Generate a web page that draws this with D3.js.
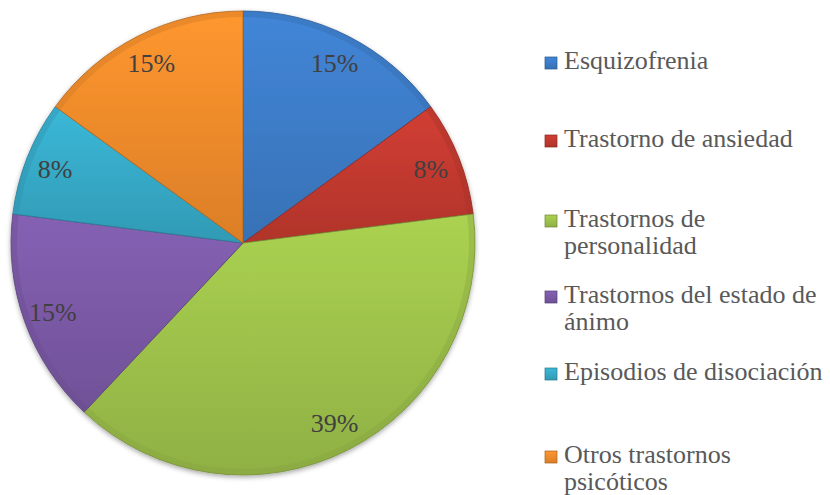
<!DOCTYPE html>
<html>
<head>
<meta charset="utf-8">
<script src="https://cdn.jsdelivr.net/npm/d3@7"></script>
<style>
  body { margin: 0; background: #fff; }
  svg { display: block; }
</style>
</head>
<body>
<div id="canvas"></div>
<script>
"use strict"

// data
let categories = ["Esquizofrenia", "Trastorno de ansiedad", "Trastornos de personalidad",
    "Trastornos del estado de ánimo", "Episodios de disociación", "Otros trastornos psicóticos"];
let values = [15, 8, 39, 15, 8, 15];
let labels = ["15%", "8%", "39%", "15%", "8%", "15%"];
let legendLines = [["Esquizofrenia"], ["Trastorno de ansiedad"], ["Trastornos de", "personalidad"],
    ["Trastornos del estado de", "ánimo"], ["Episodios de disociación"], ["Otros trastornos", "psicóticos"]];
let colors = ["#3c7bc6", "#c0392f", "#9cc04a", "#7a59a5", "#36a8c6", "#ef8a2b"];

let drawing = d3.select("#canvas")
    .append("svg")
    .attr("width", 830)
    .attr("height", 495);

let defs = drawing.append("defs");

// a gradient per colour so slices look a bit shaded like the original
colors.forEach(function (c, i) {
    let g = defs.append("linearGradient")
        .attr("id", "grad" + i)
        .attr("x1", 0).attr("y1", 0)
        .attr("x2", 0).attr("y2", 1);
    g.append("stop").attr("offset", "0%").attr("stop-color", d3.color(c).brighter(0.25));
    g.append("stop").attr("offset", "100%").attr("stop-color", d3.color(c).darker(0.25));
});

let shadow = defs.append("filter").attr("id", "shadow")
    .attr("x", "-10%").attr("y", "-10%").attr("width", "120%").attr("height", "120%");
shadow.append("feDropShadow")
    .attr("dx", 0).attr("dy", 2)
    .attr("stdDeviation", 2.5)
    .attr("flood-color", "#000")
    .attr("flood-opacity", 0.35);

let cx = 243, cy = 243, radius = 232;

let pie = d3.pie().sort(null).value(d => d);
let arcs = pie(values);

let arc = d3.arc().innerRadius(0).outerRadius(radius);
let inner = d3.arc().innerRadius(radius - 6).outerRadius(radius);
let labelArc = d3.arc().innerRadius(202).outerRadius(202);

let pieGroup = drawing.append("g")
    .attr("transform", "translate(" + cx + "," + cy + ")");

let slices = pieGroup.append("g").attr("filter", "url(#shadow)");

slices.selectAll("path.slice")
    .data(arcs)
    .enter()
    .append("path")
    .attr("class", "slice")
    .attr("d", arc)
    .attr("fill", (d, i) => "url(#grad" + i + ")")
    .attr("stroke", (d, i) => d3.color(colors[i]).darker(0.9))
    .attr("stroke-width", 0.8)
    .attr("stroke-linejoin", "round");

// clip each slice and run a light band along its edges for the bevel look
arcs.forEach(function (d, i) {
    defs.append("clipPath").attr("id", "clip" + i)
        .append("path")
        .attr("d", arc(d))
        .attr("transform", "translate(" + cx + "," + cy + ")");
});

pieGroup.selectAll("path.bevel")
    .data(arcs)
    .enter()
    .append("path")
    .attr("class", "bevel")
    .attr("d", arc)
    .attr("clip-path", (d, i) => "url(#clip" + i + ")")
    .attr("transform", "translate(" + (-cx) + "," + (-cy) + ") translate(" + cx + "," + cy + ")")
    .attr("fill", "none")
    .attr("stroke", "#fff")
    .attr("stroke-opacity", 0.18)
    .attr("stroke-width", 8);

// soft darker rim along the outside edge
pieGroup.selectAll("path.rim")
    .data(arcs)
    .enter()
    .append("path")
    .attr("class", "rim")
    .attr("d", inner)
    .attr("fill", (d, i) => d3.color(colors[i]).darker(0.4))
    .attr("opacity", 0.4);

pieGroup.selectAll("text.pct")
    .data(arcs)
    .enter()
    .append("text")
    .attr("class", "pct")
    .attr("x", d => labelArc.centroid(d)[0])
    .attr("y", d => labelArc.centroid(d)[1])
    .attr("dy", "0.35em")
    .attr("text-anchor", "middle")
    .attr("font-family", "'Liberation Serif', 'Times New Roman', serif")
    .attr("font-size", 26)
    .attr("fill", "#404040")
    .text((d, i) => labels[i]);

// legend, baselines of the first line of each entry
let legendBase = [69, 147, 227, 303, 380, 463];
let legend = drawing.append("g");

let items = legend.selectAll("g.item")
    .data(categories)
    .enter()
    .append("g")
    .attr("class", "item")
    .attr("transform", (d, i) => "translate(0," + legendBase[i] + ")");

items.append("rect")
    .attr("x", 545)
    .attr("y", -12)
    .attr("width", 12)
    .attr("height", 12)
    .attr("fill", (d, i) => "url(#grad" + i + ")")
    .attr("stroke", (d, i) => d3.color(colors[i]).darker(1))
    .attr("stroke-width", 0.7);

items.append("text")
    .attr("x", 564)
    .attr("y", 0)
    .attr("font-family", "'Liberation Serif', 'Times New Roman', serif")
    .attr("font-size", 26)
    .attr("fill", "#595959")
    .selectAll("tspan")
    .data((d, i) => legendLines[i])
    .enter()
    .append("tspan")
    .attr("x", 564)
    .attr("dy", (d, j) => j === 0 ? 0 : 27)
    .text(d => d);
</script>
</body>
</html>
